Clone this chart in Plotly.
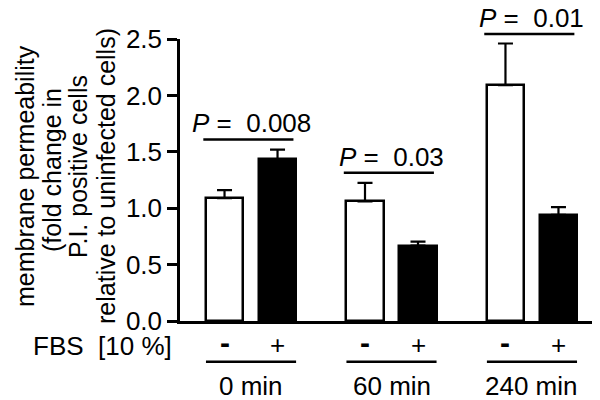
import plotly.graph_objects as go

# ---- data ----
groups = ["0 min", "60 min", "240 min"]
fbs_labels = ["<b>-</b>", "+"]
vals_minus = [1.09, 1.06, 2.09]
err_minus = [0.07, 0.165, 0.37]
vals_plus = [1.435, 0.668, 0.94]
err_plus = [0.085, 0.035, 0.07]
p_labels = ["0.008", "0.03", "0.01"]
sig_line_y = [1.61, 1.315, 2.545]
y_ticks = [0.0, 0.5, 1.0, 1.5, 2.0, 2.5]

# ---- layout helpers ----
GROUP_GAP = 2.65
BAR_W = 0.7
YMAX = 2.5
FONT = "Liberation Sans, Arial, Helvetica, sans-serif"
OFF_Y = 8  # page offset above the figure
W, H = 600, 400 - OFF_Y
PL, PR, PT, PB = 172, 5, 39 - OFF_Y, 79
pw, ph = W - PL - PR, H - PT - PB
AX_X, AX_Y = 172, 321  # page pixel position of plot-area left / bottom

def xpaper(px):
    return (px - AX_X) / pw

def ypaper(py):
    return (AX_Y - py) / ph

x_minus = [g * GROUP_GAP for g in range(len(groups))]
x_plus = [g * GROUP_GAP + 1 for g in range(len(groups))]

fig = go.Figure()
fig.add_trace(go.Bar(
    x=x_minus, y=vals_minus, width=BAR_W,
    marker=dict(color="white", line=dict(color="black", width=2.5)),
    error_y=dict(type="data", symmetric=False, array=err_minus,
                 arrayminus=[0] * len(err_minus), color="black",
                 thickness=2.2, width=7.5),
    showlegend=False,
))
fig.add_trace(go.Bar(
    x=x_plus, y=vals_plus, width=BAR_W,
    marker=dict(color="black", line=dict(color="black", width=2.5)),
    error_y=dict(type="data", symmetric=False, array=err_plus,
                 arrayminus=[0] * len(err_plus), color="black",
                 thickness=2.2, width=7.5),
    showlegend=False,
))

shapes = []
annotations = []
tf = dict(family=FONT, size=26, color="black")
title_font = dict(family=FONT, size=25, color="black")

for i, g in enumerate(groups):
    left = x_minus[i] - BAR_W / 2
    right = x_plus[i] + BAR_W / 2
    center = (x_minus[i] + x_plus[i]) / 2
    # significance line
    shapes.append(dict(type="line", xref="x", yref="paper",
                       x0=left - 0.05, x1=right - 0.05,
                       y0=sig_line_y[i] / YMAX, y1=sig_line_y[i] / YMAX,
                       line=dict(color="black", width=2.5)))
    annotations.append(dict(xref="x", yref="paper", x=center,
                            y=sig_line_y[i] / YMAX, yshift=16,
                            xanchor="center", yanchor="middle",
                            text="<i>P</i> =\u00a0\u00a0" + p_labels[i],
                            showarrow=False, font=tf))
    # FBS -/+ labels
    for xv, lab, sz, yy in zip([x_minus[i], x_plus[i]], fbs_labels, [30, 26], [342, 345]):
        annotations.append(dict(xref="x", yref="paper", x=xv, y=ypaper(yy),
                                xanchor="center", yanchor="middle",
                                text=lab, showarrow=False,
                                font=dict(family=FONT, size=sz, color="black")))
    # group underline
    shapes.append(dict(type="line", xref="x", yref="paper",
                       x0=left, x1=right, y0=ypaper(361.7), y1=ypaper(361.7),
                       line=dict(color="black", width=2.5)))
    annotations.append(dict(xref="x", yref="paper", x=center, y=ypaper(386),
                            xanchor="center", yanchor="middle",
                            text=g, showarrow=False, font=tf))

annotations.append(dict(xref="paper", yref="paper", x=xpaper(166), y=ypaper(346),
                        xanchor="right", yanchor="middle",
                        text="FBS\u00a0\u00a0[10 %]", showarrow=False, font=tf))

# y-axis title lines
title_lines = ["membrane permeability", "(fold change in",
               "P.I. positive cells", "relative to uninfected cells)"]
title_x = [17, 44, 70, 97.5]
title_y = [176, 170, 167, 176.5]
for t, tx, ty in zip(title_lines, title_x, title_y):
    annotations.append(dict(xref="paper", yref="paper", x=xpaper(tx), y=ypaper(ty),
                            xanchor="center", yanchor="middle", textangle=-90,
                            text=t, showarrow=False, font=title_font))

fig.update_layout(
    width=W, height=H,
    margin=dict(l=PL, r=PR, t=PT, b=PB, pad=0),
    paper_bgcolor="white", plot_bgcolor="white",
    bargap=0, barmode="overlay",
    font=dict(family=FONT, size=26, color="black"),
    xaxis=dict(range=[-0.84, x_plus[-1] + 0.84], showline=True, linecolor="black",
               linewidth=2.5, showticklabels=False, ticks="", showgrid=False,
               zeroline=False, fixedrange=True),
    yaxis=dict(range=[0, YMAX], showline=True, linecolor="black", linewidth=2.5,
               ticks="outside", ticklen=10, tickwidth=2.5, tickcolor="black",
               tickvals=y_ticks, ticktext=[f"{v:.1f}" for v in y_ticks],
               tickfont=dict(family=FONT, size=26, color="black"),
               showgrid=False, zeroline=False, fixedrange=True),
    shapes=shapes,
    annotations=annotations,
)

fig.write_html("out.html")
